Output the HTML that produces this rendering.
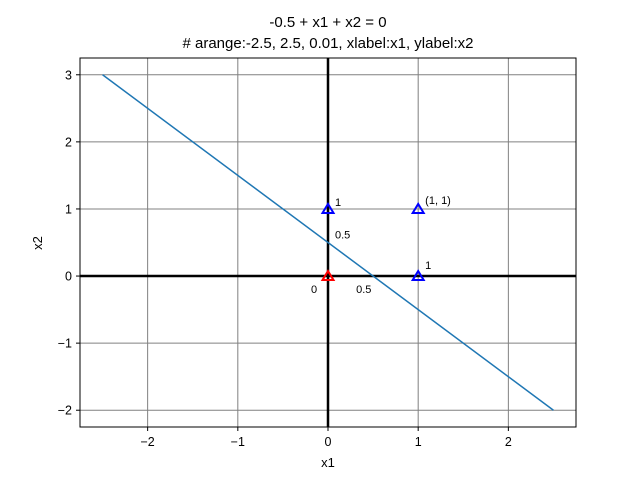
<!DOCTYPE html>
<html><head><meta charset="utf-8"><style>body{margin:0;background:#fff}svg{display:block;font-family:"Liberation Sans","DejaVu Sans",sans-serif}</style></head>
<body>
<svg id="c" width="640" height="480">
<rect width="640" height="480" fill="#fff"/>
<text x="328" y="27" text-anchor="middle" font-size="15">-0.5 + x1 + x2 = 0</text>
<text x="328" y="48" text-anchor="middle" font-size="15"># arange:-2.5, 2.5, 0.01, xlabel:x1, ylabel:x2</text>
<g id="grid"></g><g id="marks"></g>
<rect x="80" y="58" width="496" height="369" fill="none" stroke="#000" stroke-width="1"/>
<text x="328" y="467" text-anchor="middle" font-size="13">x1</text>
<text x="0" y="0" transform="translate(42,243) rotate(-90)" text-anchor="middle" font-size="13">x2</text>
</svg>
<script>
const xTicks=[-2,-1,0,1,2];
const yTicks=[-2,-1,0,1,2,3];
const lineX=[-2.5,2.5];
const lineY=[3,-2];
const pointsX=[0,0,1,1];
const pointsY=[0,1,0,1];
const pointColors=['red','blue','blue','blue'];
const annText=['1','(1, 1)','1','0.5','0','0.5'];
const annX=[0,1,1,0,0,0.5];
const annY=[1,1,0,0.5,0,0];
const annDx=[7,7,7,7,-17,-17];
const annDy=[-3,-5,-7,-4,17,17];
const X=v=>80+(v+2.75)/5.5*496;
const Y=v=>427-(v+2.25)/5.5*369;
const NS='http://www.w3.org/2000/svg';
const g=document.getElementById('grid'),m=document.getElementById('marks');
function mk(p,t,a){const e=document.createElementNS(NS,t);for(const k in a)e.setAttribute(k,a[k]);p.appendChild(e);return e;}
xTicks.forEach(t=>{
 const l=mk(g,'line',{x1:X(t),x2:X(t),y1:58,y2:427,stroke:'#808080','stroke-width':1});
 
 
 mk(g,'line',{x1:X(t),x2:X(t),y1:427,y2:431,stroke:'#000'});
 const tx=mk(g,'text',{x:X(t),y:446,'text-anchor':'middle','font-size':12.5});
 tx.textContent=t<0?'\u2212'+(-t):String(t);
 
 
});
yTicks.forEach(t=>{
 const l=mk(g,'line',{x1:80,x2:576,y1:Y(t),y2:Y(t),stroke:'#808080','stroke-width':1});
 
 
 mk(g,'line',{x1:76,x2:80,y1:Y(t),y2:Y(t),stroke:'#000'});
 const tx=mk(g,'text',{x:72,y:Y(t)+4.5,'text-anchor':'end','font-size':12.5});
 tx.textContent=t<0?'\u2212'+(-t):String(t);
 
 
});
let a=mk(m,'line',{x1:80,x2:576,y1:Y(0),y2:Y(0),stroke:'#000','stroke-width':2.5});


a=mk(m,'line',{x1:X(0),x2:X(0),y1:58,y2:427,stroke:'#000','stroke-width':2.5});


const ln=mk(m,'line',{x1:X(lineX[0]),y1:Y(lineY[0]),x2:X(lineX[1]),y2:Y(lineY[1]),stroke:'#1f77b4','stroke-width':1.5});


pointsX.forEach((px,i)=>{
 const cx=X(px),cy=Y(pointsY[i]);
 const p=mk(m,'polygon',{points:`${cx},${cy-5} ${cx-5.5},${cy+4} ${cx+5.5},${cy+4}`,fill:'none',stroke:pointColors[i],'stroke-width':2});
 
 
});
annText.forEach((s,i)=>{
 const t=mk(m,'text',{x:X(annX[i])+annDx[i],y:Y(annY[i])+annDy[i],'font-size':11});
 t.textContent=s;
 
 
});
</script>
</body></html>
